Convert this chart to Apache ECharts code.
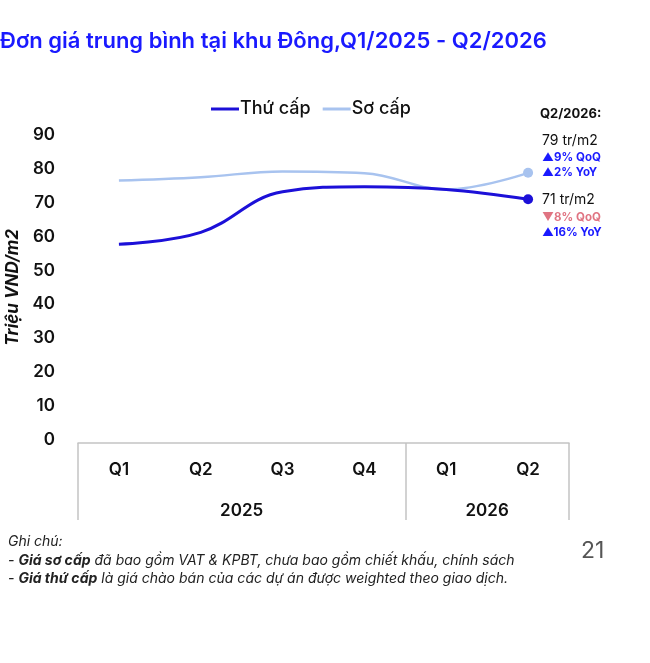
<!DOCTYPE html>
<html>
<head>
<meta charset="utf-8">
<script src="https://cdn.jsdelivr.net/npm/echarts@6/dist/echarts.min.js"></script>
<style>
  html, body { margin: 0; padding: 0; background: #fff; }
  #chart { width: 650px; height: 663px; }
</style>
</head>
<body>
<div id="chart"></div>
<script>
// dữ liệu
const quarters = ['Q1', 'Q2', 'Q3', 'Q4', 'Q1', 'Q2'];
const years = ['2025', '2026'];
const yearSpans = [4, 2];
const thuCap = [57.8, 61.3, 73.3, 74.8, 74.0, 71.1];
const soCap = [76.6, 77.6, 79.3, 78.8, 74.0, 78.9];
const yTicks = [0, 10, 20, 30, 40, 50, 60, 70, 80, 90];

const soCapNote = ['79 tr/m2', '▲9% QoQ', '▲2% YoY'];
const thuCapNote = ['71 tr/m2', '▼8% QoQ', '▲16% YoY'];

const FONT = 'Inter, "Noto Sans", sans-serif';
const BLUE = '#1a1aff';
const GRAY = '#c4c4c4';

// ranh giới năm và vị trí nhãn năm
let bounds = [0], centers = [];
yearSpans.forEach(s => {
    const start = bounds[bounds.length - 1];
    centers.push(start + s / 2);
    bounds.push(start + s);
});

function noteText(lines) {
    return '{v|' + lines[0] + '}\n' + lines.slice(1).map(t =>
        (t.charAt(0) === '▼' ? '{dn|' : '{up|') + t + '}').join('\n');
}

const noteRich = {
    v: { fontFamily: FONT, fontSize: 14, color: '#111', lineHeight: 19 },
    up: { fontFamily: FONT, fontSize: 11.5, fontWeight: 'bold', color: BLUE, lineHeight: 15 },
    dn: { fontFamily: FONT, fontSize: 11.5, fontWeight: 'bold', color: '#e07482', lineHeight: 15 }
};

function lastPointData(values, lines, offsetY) {
    return values.map((v, i) => {
        if (i < values.length - 1) return { value: v, symbol: 'none' };
        return {
            value: v,
            symbol: 'circle',
            symbolSize: 10,
            label: {
                show: true,
                position: 'right',
                distance: 9,
                offset: [0, offsetY],
                formatter: noteText(lines),
                rich: noteRich
            }
        };
    });
}

const chart = echarts.init(document.getElementById('chart'));

const option = {
    animation: false,
    textStyle: { fontFamily: FONT },
    title: {
        text: 'Đơn giá trung bình tại khu Đông,Q1/2025 - Q2/2026',
        left: 0,
        top: 30,
        padding: 0,
        textStyle: { fontFamily: FONT, fontSize: 22, fontWeight: 600, color: BLUE }
    },
    legend: {
        left: 206,
        top: 95,
        icon: 'rect',
        itemWidth: 28,
        itemHeight: 3,
        itemGap: 12,
        textStyle: { fontFamily: FONT, fontSize: 18, fontWeight: 500, color: '#111', padding: [0, 0, 0, -4] },
        data: ['Thứ cấp', 'Sơ cấp']
    },
    grid: { left: 78, right: 81, top: 135.3, bottom: 223.5, outerBoundsMode: 'none', containLabel: false },
    xAxis: [
        {
            type: 'category',
            data: quarters,
            boundaryGap: true,
            offset: 3.5,
            axisLine: { show: false },
            axisTick: { show: false },
            axisLabel: { margin: 18, fontFamily: FONT, fontSize: 17, fontWeight: 600, color: '#111' }
        },
        {
            type: 'value',
            position: 'bottom',
            min: 0,
            max: bounds[bounds.length - 1],
            offset: 3.5,
            splitLine: { show: false },
            axisLine: { show: true, lineStyle: { color: GRAY, width: 1.5 } },
            axisTick: { show: true, customValues: bounds, length: 77, lineStyle: { color: GRAY, width: 1.5 } },
            axisLabel: {
                customValues: centers,
                margin: 59,
                fontFamily: FONT, fontSize: 17, fontWeight: 600, color: '#111',
                formatter: v => years[centers.indexOf(v)]
            }
        }
    ],
    yAxis: {
        type: 'value',
        min: yTicks[0],
        max: yTicks[yTicks.length - 1],
        interval: yTicks[1] - yTicks[0],
        name: 'Triệu VND/m2',
        nameLocation: 'middle',
        nameRotate: 90,
        nameGap: 54,
        nameTextStyle: { fontFamily: FONT, fontSize: 17, fontWeight: 'bold', fontStyle: 'italic', color: '#111' },
        axisLine: { show: false },
        axisTick: { show: false },
        splitLine: { show: false },
        axisLabel: { margin: 23, fontFamily: FONT, fontSize: 17, fontWeight: 600, color: '#111' }
    },
    series: [
        {
            name: 'Thứ cấp',
            type: 'line',
            smooth: 0.4,
            color: '#1c10d8',
            lineStyle: { width: 3, color: '#1c10d8' },
            itemStyle: { color: '#1c10d8' },
            z: 3,
            data: lastPointData(thuCap, thuCapNote, 16)
        },
        {
            name: 'Sơ cấp',
            type: 'line',
            smooth: 0.4,
            color: '#a8c3ef',
            lineStyle: { width: 2.5, color: '#a8c3ef' },
            itemStyle: { color: '#a8c3ef' },
            z: 2,
            data: lastPointData(soCap, soCapNote, -17)
        }
    ],
    graphic: [
        {
            type: 'text', left: 540, top: 108,
            style: { text: 'Q2/2026:', font: 'bold 13px ' + FONT, fill: '#111' }
        },
        {
            type: 'text', left: 8, top: 535,
            style: {
                text: '{i|Ghi chú:}\n{i|- }{b|Giá sơ cấp}{i| đã bao gồm VAT & KPBT, chưa bao gồm chiết khấu, chính sách}\n{i|- }{b|Giá thứ cấp}{i| là giá chào bán của các dự án được weighted theo giao dịch.}',
                rich: {
                    i: { fontFamily: FONT, fontSize: 14, fontStyle: 'italic', fill: '#222', lineHeight: 18.5 },
                    b: { fontFamily: FONT, fontSize: 14, fontStyle: 'italic', fontWeight: 'bold', fill: '#222', lineHeight: 18.5 }
                }
            }
        },
        {
            type: 'text', left: 581, top: 540,
            style: { text: '21', font: '23px ' + FONT, fill: '#555' }
        }
    ]
};

chart.setOption(option);
</script>
</body>
</html>
